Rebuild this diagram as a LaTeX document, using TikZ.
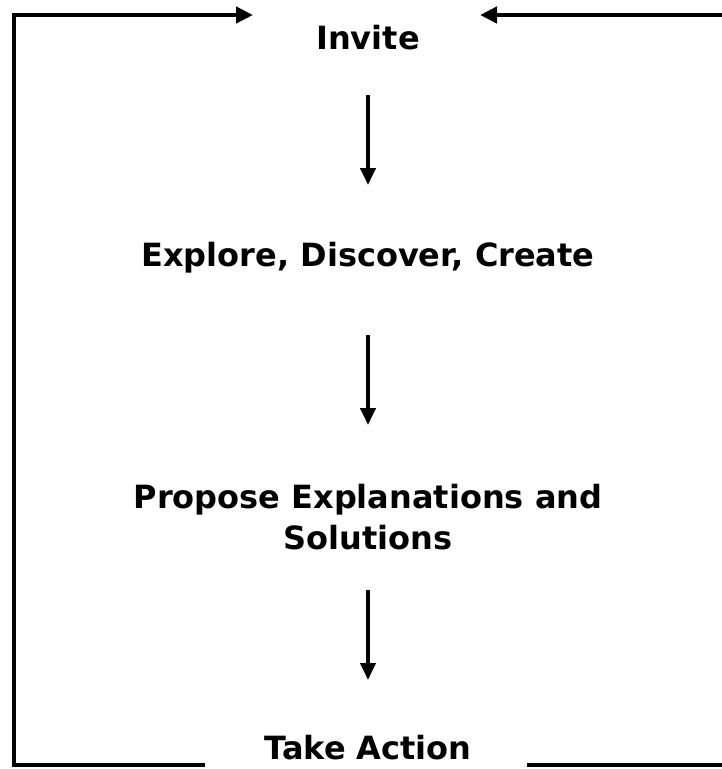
\documentclass[tikz,border=0pt]{standalone}
\usepackage{fontspec}
\setmainfont{DejaVu Sans}
\usetikzlibrary{arrows.meta}
\begin{document}
\begin{tikzpicture}[x=1pt, y=-1pt,
    stage/.style={font=\bfseries\fontsize{32}{41}\selectfont, align=center, inner sep=0pt},
    flow/.style={line width=4pt, -{Triangle[length=17pt, width=15pt]}},
    loop/.style={line width=4.5pt}]
        \useasboundingbox (0,0) rectangle (722,769);
        \node (invite) [stage] at (368, 38) {Invite};
        \node (explore) [stage] at (368, 258) {Explore, Discover, Create};
        \node (propose) [stage] at (368, 517) {Propose Explanations and\\Solutions};
        \node (action) [stage] at (368, 748) {Take Action};

        \coordinate (loop_left_in) at (253, 15);
        \coordinate (loop_right_in) at (480, 15);

        \draw[flow, shorten <=57pt, shorten >=73pt] (invite.center) -- (explore.center);
        \draw[flow, shorten <=77pt, shorten >=92pt] (explore.center) -- (propose.center);
        \draw[flow, shorten <=73pt, shorten >=68pt] (propose.center) -- (action.center);

        \draw[loop, -{Triangle[length=17pt, width=16pt]}] (205, 765) -- (14, 765) -- (14, 15) -- (loop_left_in);
        \draw[loop, -{Triangle[length=17pt, width=16pt]}] (722, 15) -- (loop_right_in);
        \draw[loop] (527, 765) -- (722, 765);
\end{tikzpicture}
\end{document}
